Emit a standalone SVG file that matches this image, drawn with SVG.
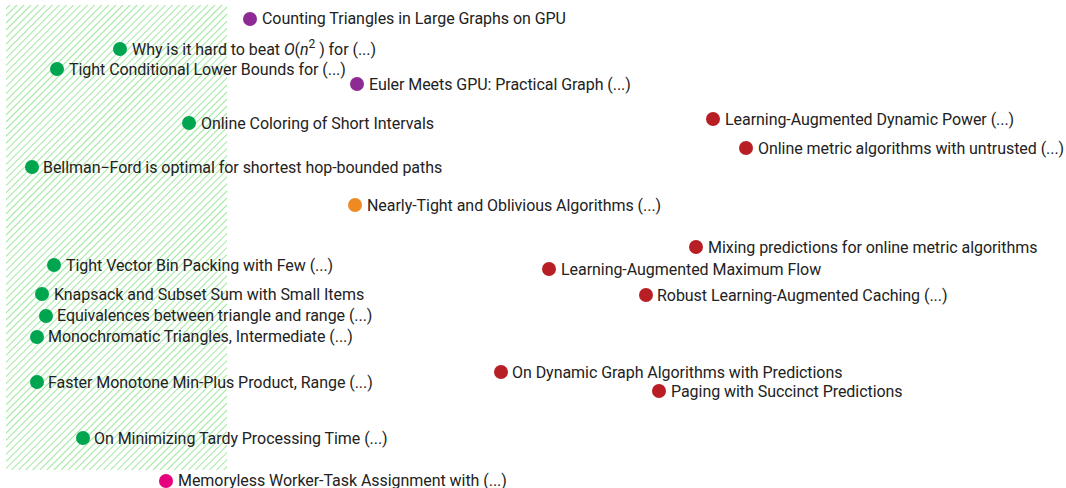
<svg xmlns="http://www.w3.org/2000/svg" width="1066" height="488" viewBox="0 0 1066 488">
<style>
text{font-family:Roboto,"Liberation Sans",sans-serif;font-size:16px;fill:#222;letter-spacing:-0.05px}
.g{fill:#00a54f}.p{fill:#8e2a93}.o{fill:#ee8a24}.r{fill:#b71f24}.m{fill:#e6007e}
</style>
<defs>
<pattern id="hatch" width="5" height="5" patternUnits="userSpaceOnUse" patternTransform="rotate(45)">
<line x1="0" y1="0" x2="0" y2="5" stroke="#7fe07f" stroke-width="1.5"/>
</pattern>
</defs>
<rect id="region" x="6" y="5" width="221" height="465" fill="url(#hatch)"/>
<g id="connectors"></g>
<g id="n1"><circle class="p" cx="250" cy="19" r="7"/><text x="262" y="24">Counting Triangles in Large Graphs on GPU</text></g>
<g id="n2"><circle class="g" cx="120" cy="49" r="7"/><text x="132" y="55">Why is it hard to beat <tspan font-style="italic">O</tspan>(<tspan font-style="italic">n</tspan><tspan font-size="12" dy="-7">2</tspan><tspan dy="7"> ) for (...)</tspan></text></g>
<g id="n3"><circle class="g" cx="57" cy="69" r="7"/><text x="69" y="75">Tight Conditional Lower Bounds for (...)</text></g>
<g id="n4"><circle class="p" cx="357" cy="84" r="7"/><text x="369" y="90">Euler Meets GPU: Practical Graph (...)</text></g>
<g id="n5"><circle class="g" cx="189" cy="123" r="7"/><text x="201" y="129">Online Coloring of Short Intervals</text></g>
<g id="n6"><circle class="g" cx="32" cy="167" r="7"/><text x="43" y="173">Bellman−Ford is optimal for shortest hop-bounded paths</text></g>
<g id="n7"><circle class="o" cx="355" cy="205" r="7"/><text x="367" y="211">Nearly-Tight and Oblivious Algorithms (...)</text></g>
<g id="n8"><circle class="r" cx="713" cy="119" r="7"/><text x="725" y="125">Learning-Augmented Dynamic Power (...)</text></g>
<g id="n9"><circle class="r" cx="746" cy="148" r="7"/><text x="758" y="154">Online metric algorithms with untrusted (...)</text></g>
<g id="n10"><circle class="r" cx="696" cy="247" r="7"/><text x="708" y="253">Mixing predictions for online metric algorithms</text></g>
<g id="n11"><circle class="r" cx="549" cy="269" r="7"/><text x="561" y="275">Learning-Augmented Maximum Flow</text></g>
<g id="n12"><circle class="r" cx="646" cy="295" r="7"/><text x="657" y="301">Robust Learning-Augmented Caching (...)</text></g>
<g id="n13"><circle class="g" cx="54" cy="265" r="7"/><text x="66" y="271">Tight Vector Bin Packing with Few (...)</text></g>
<g id="n14"><circle class="g" cx="42" cy="294" r="7"/><text x="54" y="300">Knapsack and Subset Sum with Small Items</text></g>
<g id="n15"><circle class="g" cx="46" cy="316" r="7"/><text x="57" y="321">Equivalences between triangle and range (...)</text></g>
<g id="n16"><circle class="g" cx="37" cy="337" r="7"/><text x="48" y="342">Monochromatic Triangles, Intermediate (...)</text></g>
<g id="n17"><circle class="g" cx="37" cy="382" r="7"/><text x="48" y="388">Faster Monotone Min-Plus Product, Range (...)</text></g>
<g id="n18"><circle class="g" cx="83" cy="438" r="7"/><text x="94" y="444">On Minimizing Tardy Processing Time (...)</text></g>
<g id="n19"><circle class="m" cx="166" cy="481" r="7"/><text x="178" y="486">Memoryless Worker-Task Assignment with (...)</text></g>
<g id="n20"><circle class="r" cx="501" cy="372" r="7"/><text x="512" y="378">On Dynamic Graph Algorithms with Predictions</text></g>
<g id="n21"><circle class="r" cx="659" cy="391" r="7"/><text x="671" y="397">Paging with Succinct Predictions</text></g>
</svg>
